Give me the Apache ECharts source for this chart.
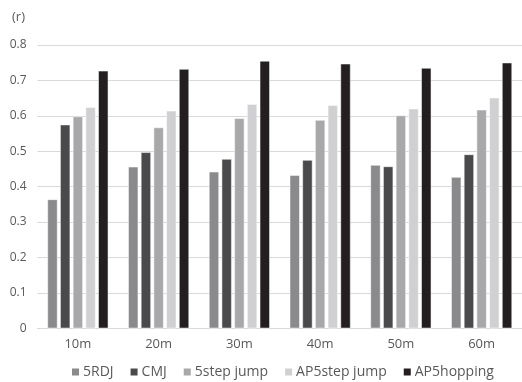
<!DOCTYPE html>
<html>
<head>
<meta charset="utf-8">
<script src="https://cdn.jsdelivr.net/npm/echarts@6/dist/echarts.min.js"></script>
<style>html,body{margin:0;padding:0;background:#fff;}#c{width:522px;height:382px;}</style>
</head>
<body>
<div id="c"></div>
<script>
const categories = ['10m', '20m', '30m', '40m', '50m', '60m'];
const seriesNames = ['5RDJ', 'CMJ', '5step jump', 'AP5step jump', 'AP5hopping'];
const rdj5 = [0.364, 0.456, 0.442, 0.432, 0.461, 0.427];
const cmj = [0.575, 0.497, 0.478, 0.475, 0.457, 0.491];
const step5 = [0.598, 0.567, 0.593, 0.588, 0.601, 0.617];
const ap5step = [0.624, 0.614, 0.633, 0.630, 0.620, 0.651];
const ap5hop = [0.727, 0.732, 0.755, 0.747, 0.735, 0.750];
const colors = ['#8a8a8d', '#4a4a4c', '#a8a8aa', '#d0d0d2', '#231f20'];
const values = [rdj5, cmj, step5, ap5step, ap5hop];

const font = 'Open Sans';
const chart = echarts.init(document.getElementById('c'), null, {renderer: 'canvas'});
chart.setOption({
  animation: false,
  backgroundColor: '#fff',
  title: {text: '(r)', left: 7, top: 6, textStyle: {fontFamily: font, fontSize: 13, fontWeight: 'normal', color: '#595959'}},
  legend: {
    data: seriesNames,
    bottom: -2,
    left: 65,
    itemWidth: 9, itemHeight: 9, itemGap: 15,
    icon: 'rect',
    textStyle: {fontFamily: font, fontSize: 14, color: '#595959', padding: [0, 0, 0, -2]}
  },
  grid: {left: 37.5, top: 45, width: 490, bottom: 53.7, containLabel: false},
  xAxis: {
    type: 'category', data: categories,
    axisLine: {lineStyle: {color: '#d9d9d9', width: 1}},
    axisTick: {show: false},
    axisLabel: {fontFamily: font, fontSize: 13, color: '#595959', margin: 9}
  },
  yAxis: {
    type: 'value', min: 0, max: 0.8, interval: 0.1,
    axisLine: {show: false}, axisTick: {show: false},
    splitLine: {lineStyle: {color: '#d9d9d9', width: 1}},
    axisLabel: {fontFamily: font, fontSize: 12, color: '#595959', margin: 11}
  },
  series: seriesNames.map((n, i) => ({
    name: n, type: 'bar', data: values[i],
    barWidth: 10, barGap: '27%',
    itemStyle: {color: colors[i], borderColor: '#ffffff', borderWidth: 0.5}
  }))
});
</script>
</body>
</html>
